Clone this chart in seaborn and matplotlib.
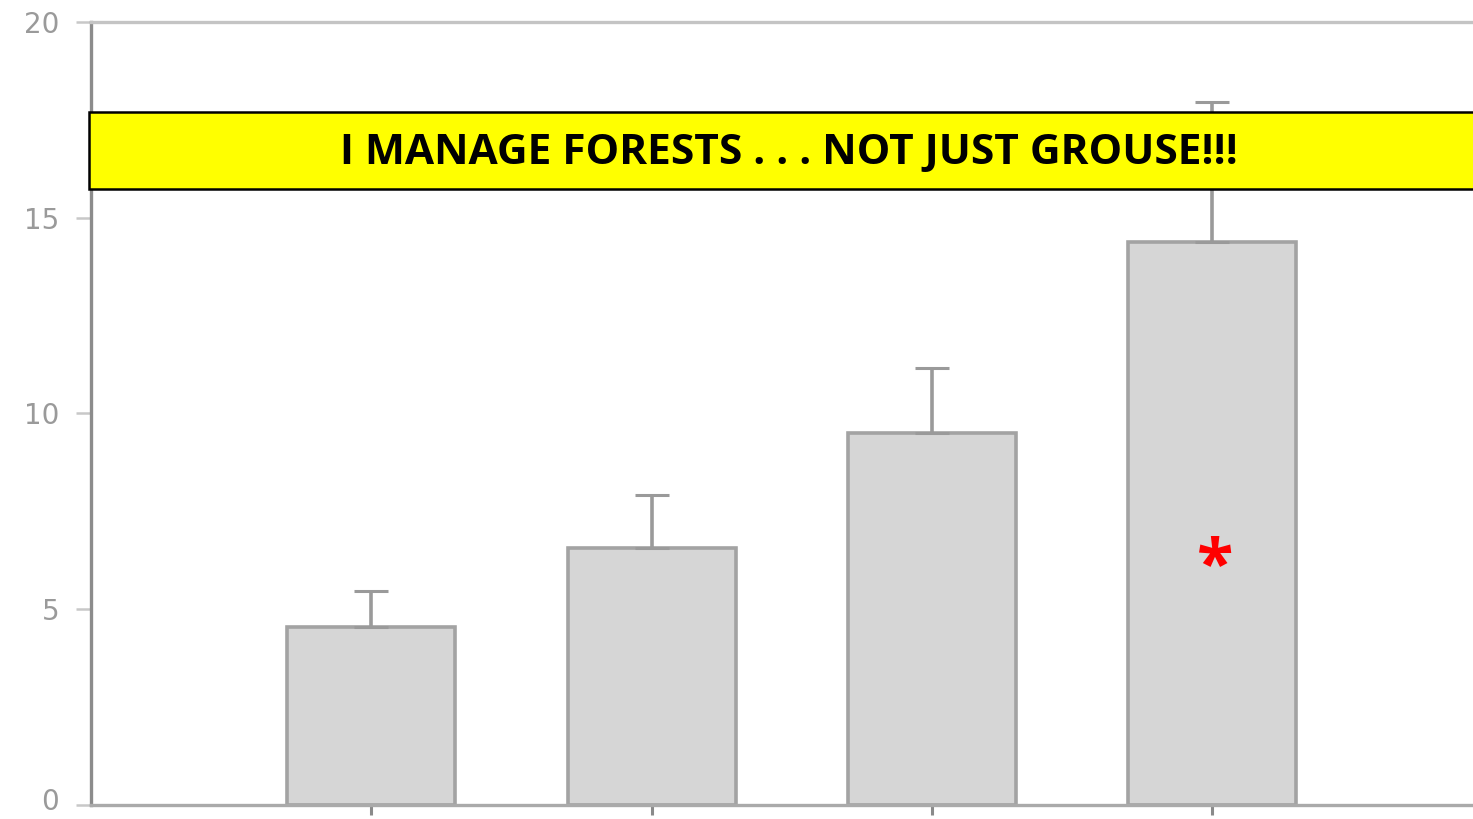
import matplotlib
matplotlib.use("Agg")
import matplotlib.pyplot as plt
import matplotlib.transforms as mtransforms
import seaborn as sns
import pandas as pd
from matplotlib.patches import Rectangle

# Data
categories = ["A", "B", "C", "D"]
means = [4.55, 6.56, 9.50, 14.38]
err_tops = [5.47, 7.92, 11.16, 17.96]
yticks = [0, 5, 10, 15, 20]
banner_text = "I MANAGE FORESTS . . . NOT JUST GROUSE!!!"
marker_text = "*"
marker_category = 3.01
marker_y = 6.05

df = pd.DataFrame({"cat": categories, "val": means})

sns.set_style("white")
plt.rcParams['font.family'] = ['DejaVu Sans']

fig = plt.figure(figsize=(14.73, 8.19), dpi=100)
ax = fig.add_axes([91/1473, 14/819, 1 - 91/1473, (805-22)/819])

sns.barplot(data=df, x="cat", y="val", ax=ax, color="#d6d6d6", width=0.6,
            edgecolor="#a3a3a3", linewidth=2.6, saturation=1, errorbar=None)

xs = list(range(len(categories)))
up = [t - m for t, m in zip(err_tops, means)]
ax.errorbar(xs, means, yerr=[[0]*len(up), up], fmt="none", ecolor="#9a9a9a",
            elinewidth=2.6, capsize=12, capthick=2.2, zorder=1)

ax.set_xlim(-1.0, 3.93)
ax.set_ylim(0, 20)
ax.set_yticks(yticks)
ax.set_yticklabels([str(v) for v in yticks])
ax.set_xticks(xs)
ax.set_xticklabels([""] * len(xs))
ax.set_xlabel("")
ax.set_ylabel("")

ax.tick_params(axis="y", direction="out", length=11, width=1.8, colors="#c8c8c8",
               labelcolor="#9a9a9a", labelsize=20, pad=12, left=True)
ax.tick_params(axis="x", direction="out", length=7, width=2.2, colors="#8a8a8a", bottom=True)

# nudge the bottom "0" label up slightly so it stays inside the image
lbl0 = ax.get_yticklabels()[0]
lbl0.set_transform(lbl0.get_transform() +
                   mtransforms.ScaledTranslation(0, 4/72, fig.dpi_scale_trans))

for side in ["left", "bottom", "top", "right"]:
    ax.spines[side].set_visible(True)
ax.spines["left"].set_color("#8c8c8c")
ax.spines["left"].set_linewidth(2.4)
ax.spines["bottom"].set_color("#aaaaaa")
ax.spines["bottom"].set_linewidth(2.4)
ax.spines["top"].set_color("#c4c4c4")
ax.spines["top"].set_linewidth(2.4)
ax.spines["right"].set_visible(False)

ax.text(marker_category, marker_y, marker_text, color="red", fontsize=48,
        fontweight="bold", ha="center", va="center", family="Open Sans")

# Banner
fig.patches.append(Rectangle((89/1473, (819-189)/819), 1.0, (189-112)/819,
                             transform=fig.transFigure, facecolor="#ffff00",
                             edgecolor="black", linewidth=1.8, zorder=10))
fig.text(789/1473, (819-154)/819, banner_text, ha="center", va="center",
         fontsize=30.5, fontweight="bold", family="Open Sans", color="black", zorder=11)

fig.savefig("out.png", dpi=100)
